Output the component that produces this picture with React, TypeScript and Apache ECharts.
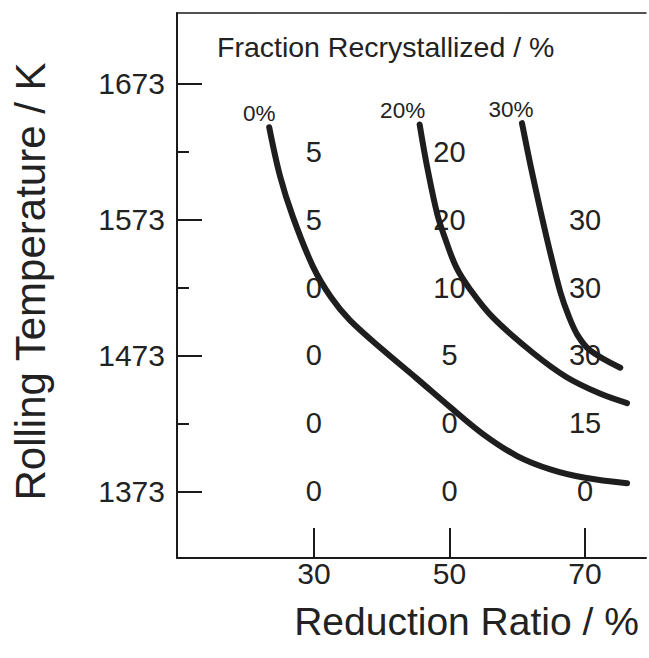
import React, { useEffect, useRef } from "react";
import * as echarts from "echarts";

const xTicks = [30, 50, 70];
const yTicks = [1373, 1473, 1573, 1673];
const yMinorTicks = [1423, 1523, 1623];

const curveNames = ["0%", "20%", "30%"];
const curve0 = [
  [23.4, 1641], [25.0, 1605], [26.9, 1575], [29.9, 1538], [32.5, 1516], [35.3, 1499],
  [40.2, 1477], [45.2, 1456], [50.1, 1435], [55.0, 1415], [60.0, 1399], [65.0, 1389],
  [70.0, 1383], [76.2, 1379],
];
const curve20 = [
  [45.6, 1643], [46.7, 1612], [48.2, 1577], [49.3, 1560], [51.0, 1538], [53.0, 1522],
  [56.4, 1501], [62.3, 1475], [67.3, 1457], [72.2, 1445], [76.2, 1438],
];
const curve30 = [
  [60.7, 1644], [62.0, 1612], [63.5, 1578], [65.0, 1546], [66.4, 1519], [67.6, 1502],
  [68.9, 1488], [70.7, 1477], [75.2, 1464],
];

const labelRows = [1623, 1573, 1523, 1473, 1423, 1373];
const labelCols = [30, 50, 70];
const col30 = [5, 5, 0, 0, 0, 0];
const col50 = [20, 20, 10, 5, 0, 0];
const col70 = [null, 30, 30, 30, 15, 0];

const FONT = "'Liberation Sans', Arial, Helvetica, sans-serif";
const INK = "#222222";

export default function App() {
  const ref = useRef<HTMLDivElement>(null);
  useEffect(() => {
    if (!ref.current) return;
    const chart = echarts.init(ref.current, null, { renderer: "svg" });

    const cols = [col30, col50, col70];
    const cellData: any[] = [];
    cols.forEach((col, ci) => {
      col.forEach((v, ri) => {
        if (v !== null) cellData.push([labelCols[ci], labelRows[ri], v]);
      });
    });

    const curves = [curve0, curve20, curve30];
    const labelOffsets = [[-10, 0], [-17, 0], [-11, 0]];

    const lineSeries = curves.map((c, i) => ({
      type: "line",
      name: curveNames[i],
      data: c,
      smooth: 0.35,
      showSymbol: false,
      symbol: "none",
      lineStyle: { color: "#1e1e1e", width: 6, cap: "round", join: "round" },
      z: 5,
    }));

    const nameData = curves.map((c, i) => ({
      value: [c[0][0], c[0][1], curveNames[i]],
      label: { offset: labelOffsets[i] },
    }));

    chart.setOption({
      animation: false,
      backgroundColor: "#ffffff",
      title: {
        text: "Fraction Recrystallized / %",
        left: 212,
        top: 27,
        textStyle: { fontSize: 28.5, fontWeight: "normal", fontFamily: FONT, color: INK },
      },
      grid: { left: 177, right: 3, top: 13, bottom: 100, containLabel: false, outerBoundsMode: "none" },
      xAxis: [
        {
          type: "value",
          min: 9.8,
          max: 79,
          position: "bottom",
          name: "Reduction Ratio / %",
          nameLocation: "middle",
          nameGap: 44,
          nameTextStyle: { fontSize: 39, fontFamily: FONT, color: INK, padding: [0, 0, 0, 110] },
          axisLine: { show: true, lineStyle: { color: "#1a1a1a", width: 2 } },
          axisTick: { show: true, inside: true, length: 30, customValues: xTicks, lineStyle: { color: "#1a1a1a", width: 2 } },
          axisLabel: { show: true, customValues: xTicks, margin: 0, fontSize: 30, fontFamily: FONT, color: INK },
          splitLine: { show: false },
        },
        {
          type: "value",
          min: 9.8,
          max: 79,
          position: "top",
          axisLine: { show: true, lineStyle: { color: "#1a1a1a", width: 1.5 } },
          axisTick: { show: false },
          axisLabel: { show: false },
          splitLine: { show: false },
        },
      ],
      yAxis: [
        {
          type: "value",
          min: 1324,
          max: 1725,
          position: "left",
          name: "Rolling Temperature / K",
          nameLocation: "middle",
          nameGap: 126,
          nameTextStyle: { fontSize: 42, fontFamily: FONT, color: INK, padding: [0, 0, 0, 8] },
          axisLine: { show: true, lineStyle: { color: "#1a1a1a", width: 2 } },
          axisTick: { show: true, inside: true, length: 25, customValues: yTicks, lineStyle: { color: "#1a1a1a", width: 2 } },
          axisLabel: {
            show: true,
            customValues: yTicks,
            margin: 12,
            fontSize: 30,
            fontFamily: FONT,
            color: INK,
            formatter: (v: number) => String(v),
          },
          splitLine: { show: false },
        },
        {
          type: "value",
          min: 1324,
          max: 1725,
          position: "left",
          offset: 0,
          axisLine: { show: false },
          axisTick: { show: true, inside: true, length: 12, customValues: yMinorTicks, lineStyle: { color: "#1a1a1a", width: 2 } },
          axisLabel: { show: false },
          splitLine: { show: false },
        },
      ],
      series: [
        {
          type: "scatter",
          data: cellData,
          symbolSize: 0,
          itemStyle: { opacity: 1 },
          label: {
            show: true,
            position: "inside",
            formatter: (p: any) => String(p.value[2]),
            fontSize: 29,
            fontFamily: FONT,
            color: INK,
          },
          z: 2,
        },
        {
          type: "scatter",
          data: nameData,
          symbolSize: 0,
          itemStyle: { opacity: 1 },
          label: {
            show: true,
            position: "top",
            distance: 2,
            formatter: (p: any) => String(p.value[2]),
            fontSize: 22.5,
            fontFamily: FONT,
            color: INK,
          },
          z: 3,
        },
        ...lineSeries,
      ],
    });
    return () => chart.dispose();
  }, []);
  return <div ref={ref} style={{ width: 649, height: 658, position: "absolute", left: 0, top: 0 }} />;
}
